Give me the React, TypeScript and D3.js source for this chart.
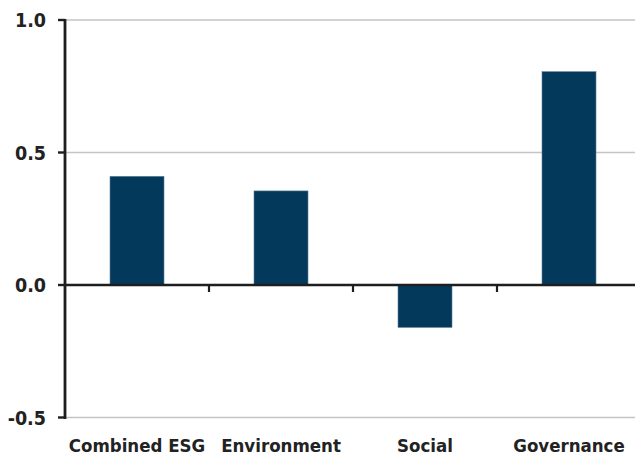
import React from "react";
import * as d3 from "d3";

const categories = ["Combined ESG", "Environment", "Social", "Governance"];
const values = [0.41, 0.355, -0.16, 0.805];
const yTicks = [-0.5, 0.0, 0.5, 1.0];

const W = 635;
const H = 458;
const FONT = "'DejaVu Sans Condensed', 'DejaVu Sans', sans-serif";

export default function App() {
  const x = d3.scaleBand<string>().domain(categories).range([65, 641]).paddingInner(0).paddingOuter(0);
  const y = d3.scaleLinear().domain([-0.5, 1.0]).range([417.5, 20]);
  const barW = 54;
  const y0 = y(0);

  return (
    <svg width={W} height={H} style={{ position: "absolute", left: 0, top: 0, background: "#fff" }}>
      {/* gridlines */}
      {yTicks.filter((t) => t !== 0).map((t) => (
        <line key={"g" + t} x1={65} x2={W} y1={y(t)} y2={y(t)} stroke="#c4c4c4" strokeWidth={1.5} />
      ))}
      {/* bars */}
      {categories.map((c, i) => {
        const v = values[i];
        const cx = (x(c) as number) + x.bandwidth() / 2;
        const top = Math.min(y(v), y0);
        const h = Math.abs(y(v) - y0);
        return (
          <rect key={c} x={cx - barW / 2} y={top} width={barW} height={h} fill="#033a5c" stroke="#5a7f99" strokeWidth={0.6} />
        );
      })}
      {/* zero line with category separators */}
      <line x1={65} x2={W} y1={y0} y2={y0} stroke="#1e1e1e" strokeWidth={2.6} />
      {categories.slice(1).map((c) => (
        <line key={"t" + c} x1={x(c) as number} x2={x(c) as number} y1={y0} y2={y0 + 7} stroke="#1e1e1e" strokeWidth={2.2} />
      ))}
      {/* y axis */}
      <line x1={65} x2={65} y1={19} y2={419} stroke="#1e1e1e" strokeWidth={2.8} />
      {yTicks.map((t) => (
        <g key={"y" + t}>
          <line x1={58} x2={65} y1={y(t)} y2={y(t)} stroke="#1e1e1e" strokeWidth={2.4} />
          <text x={46} y={y(t)} dy="0.36em" textAnchor="end" fontFamily={FONT} fontWeight={600} fontSize={19.5} fill="#222">
            {t < 0 ? "-" + d3.format(".1f")(-t) : d3.format(".1f")(t)}
          </text>
        </g>
      ))}
      {/* category labels */}
      {categories.map((c) => (
        <text key={"l" + c} x={(x(c) as number) + x.bandwidth() / 2} y={452} textAnchor="middle" fontFamily={FONT} fontWeight={600} fontSize={18.5} fill="#222">
          {c}
        </text>
      ))}
    </svg>
  );
}
